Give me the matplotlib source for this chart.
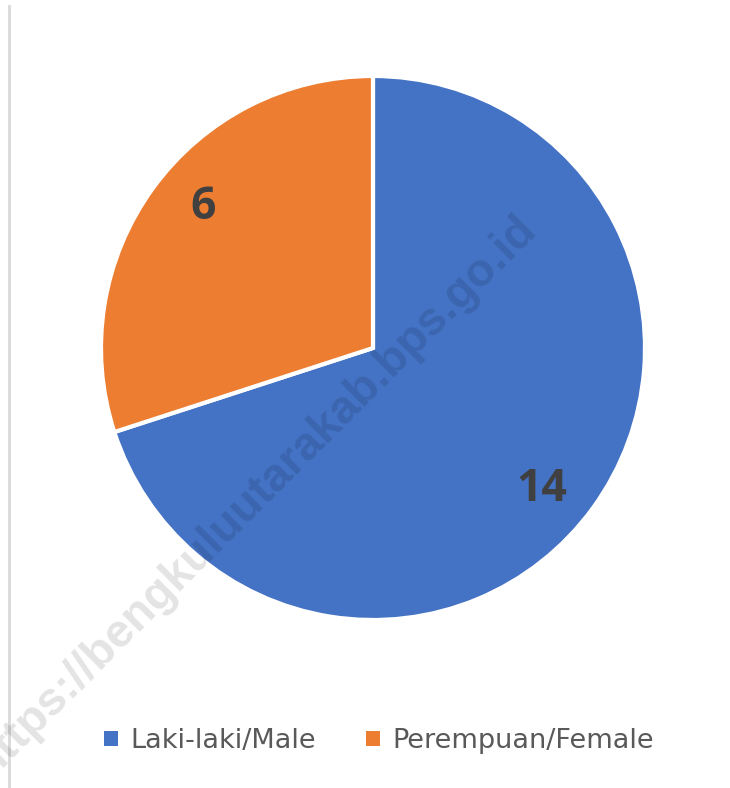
import matplotlib
matplotlib.use("Agg")
import numpy as np
import matplotlib.pyplot as plt
from matplotlib.lines import Line2D
from matplotlib.patches import Patch

categories = ["Laki-laki/Male", "Perempuan/Female"]
values = [14, 6]
colors = ["#4472C4", "#ED7D31"]
watermark = "https://bengkuluutarakab.bps.go.id"

W, H = 730, 788
fig = plt.figure(figsize=(W / 100, H / 100), dpi=100)
fig.patch.set_facecolor("white")

# left vertical border line
fig.add_artist(Line2D([9 / W, 9 / W], [0, 1 - 6 / H], color="#D9D9D9", lw=2))

cx, cy, r = 373, 348, 272
ax = fig.add_axes([(cx - r) / W, 1 - (cy + r) / H, 2 * r / W, 2 * r / H])
wedges, texts = ax.pie(
    values, colors=colors, startangle=90, counterclock=False,
    labels=[str(v) for v in values], labeldistance=0.81,
    wedgeprops=dict(edgecolor="white", linewidth=3),
    textprops=dict(fontsize=32, fontweight="bold", color="#404040", family="Open Sans"),
)
# nudge labels (Excel-style placement) by rotating around centre
for t, d in zip(texts, [-3.8, -3.5]):
    x, y = t.get_position()
    a = np.deg2rad(d)
    t.set_position((x * np.cos(a) - y * np.sin(a), x * np.sin(a) + y * np.cos(a)))
    t.set_ha("center")
    t.set_va("center")
ax.set_aspect("auto")
ax.set_xlim(-1, 1)
ax.set_ylim(-1, 1)
ax.axis("off")

# legend
handles = [Patch(facecolor=w.get_facecolor(), edgecolor="none") for w in wedges]
leg = fig.legend(
    handles, categories, loc="center", bbox_to_anchor=(379 / W, 1 - 741 / H),
    ncol=2, frameon=False, handlelength=0.52, handleheight=0.52,
    handletextpad=0.44, columnspacing=1.85,
    prop=dict(family="DejaVu Sans", size=19.5),
)
for t in leg.get_texts():
    t.set_color("#595959")

# watermark
fig.text(530 / W, 1 - 222 / H, watermark, rotation=45, ha="right", va="center",
         fontsize=33.5, fontweight="bold", color="black", alpha=0.11,
         family="Liberation Sans", rotation_mode="anchor")

fig.savefig("out.png", dpi=100)
